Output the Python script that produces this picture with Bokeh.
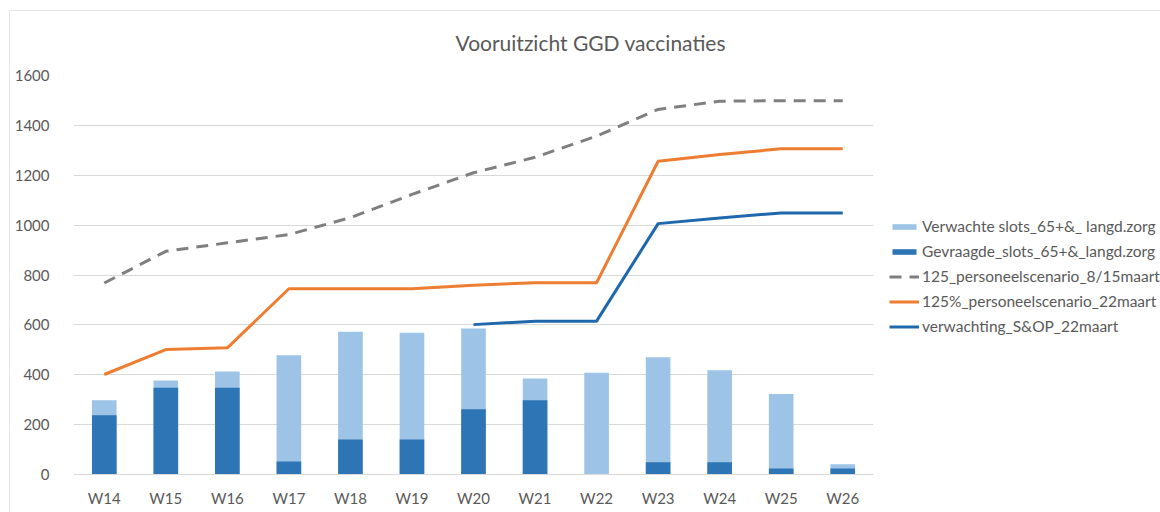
from bokeh.plotting import figure
from bokeh.models import Range1d, FactorRange, Legend, LegendItem
from bokeh.embed import file_html
from bokeh.resources import INLINE

weeks = ["W14", "W15", "W16", "W17", "W18", "W19", "W20", "W21", "W22", "W23", "W24", "W25", "W26"]
verwachte = [298, 377, 413, 478, 572, 568, 585, 385, 408, 470, 418, 323, 41]
gevraagde = [238, 348, 348, 52, 140, 140, 262, 298, 0, 49, 49, 24, 24]
scen_8_15 = [768, 895, 929, 962, 1030, 1123, 1210, 1272, 1357, 1464, 1497, 1499, 1499]
scen_22 = [401, 501, 508, 745, 745, 745, 759, 769, 769, 1256, 1283, 1306, 1306]
sop_weeks = ["W20", "W21", "W22", "W23", "W24", "W25", "W26"]
sop_22 = [601, 615, 615, 1006, 1029, 1049, 1049]

FONT = "Lato"
TXT = "#595959"

p = figure(x_range=FactorRange(*weeks, range_padding=0), y_range=Range1d(0, 1600),
           frame_width=800, frame_height=399,
           min_border_left=73, min_border_right=287, min_border_top=75, min_border_bottom=38,
           output_backend="svg", toolbar_location=None)

p.title.text = "Vooruitzicht GGD vaccinaties"
p.title.text_font = FONT
p.title.text_font_size = "21px"
p.title.text_font_style = "normal"
p.title.text_color = TXT
p.title.align = "left"
p.title.offset = 382
p.title.standoff = 40
p.title.vertical_align = "middle"

r1 = p.vbar(x=weeks, top=verwachte, width=0.4, fill_color="#9dc3e6", line_color=None)
r2 = p.vbar(x=weeks, top=gevraagde, width=0.4, fill_color="#2e75b6", line_color=None)
r3 = p.line(x=weeks, y=scen_8_15, line_color="#7f7f7f", line_width=3, line_dash="12 8")
r4 = p.line(x=weeks, y=scen_22, line_color="#ed7d31", line_width=3)
r5 = p.line(x=sop_weeks, y=sop_22, line_color="#1f68ad", line_width=3)

p.xgrid.visible = False
p.ygrid.grid_line_color = "#d9d9d9"
p.yaxis.ticker = list(range(0, 1601, 200))
p.outline_line_color = None

p.yaxis.axis_line_color = None
p.yaxis.major_tick_line_color = None
p.yaxis.minor_tick_line_color = None
p.yaxis.major_label_standoff = 18
p.xaxis.axis_line_color = "#d9d9d9"
p.xaxis.major_tick_line_color = None
p.xaxis.minor_tick_line_color = None
p.xaxis.major_label_standoff = 8
for ax in (p.xaxis, p.yaxis):
    ax.major_label_text_font = FONT
    ax.major_label_text_font_size = "15px"
    ax.major_label_text_color = TXT

legend = Legend(items=[
    LegendItem(label="Verwachte slots_65+&_ langd.zorg", renderers=[r1]),
    LegendItem(label="Gevraagde_slots_65+&_langd.zorg", renderers=[r2]),
    LegendItem(label="125_personeelscenario_8/15maart", renderers=[r3]),
    LegendItem(label="125%_personeelscenario_22maart", renderers=[r4]),
    LegendItem(label="verwachting_S&OP_22maart", renderers=[r5]),
], location=(16, 138), orientation="vertical")
legend.border_line_color = None
legend.background_fill_alpha = 0
legend.padding = 10
legend.margin = 0
legend.spacing = 5
legend.label_height = 20
legend.glyph_height = 7
legend.glyph_width = 30
legend.label_standoff = 3
legend.label_text_font = FONT
legend.label_text_font_size = "15.5px"
legend.label_text_color = TXT
p.add_layout(legend, "right")

p.border_fill_alpha = 0
p.styles = {
    "background": ("linear-gradient(#e6e6e6, #e6e6e6) 9px 10px / 100% 1px no-repeat, "
                   "linear-gradient(#e6e6e6, #e6e6e6) 9px 10px / 1px 100% no-repeat, white"),
}

open("out.html", "w").write(file_html(p, INLINE))
